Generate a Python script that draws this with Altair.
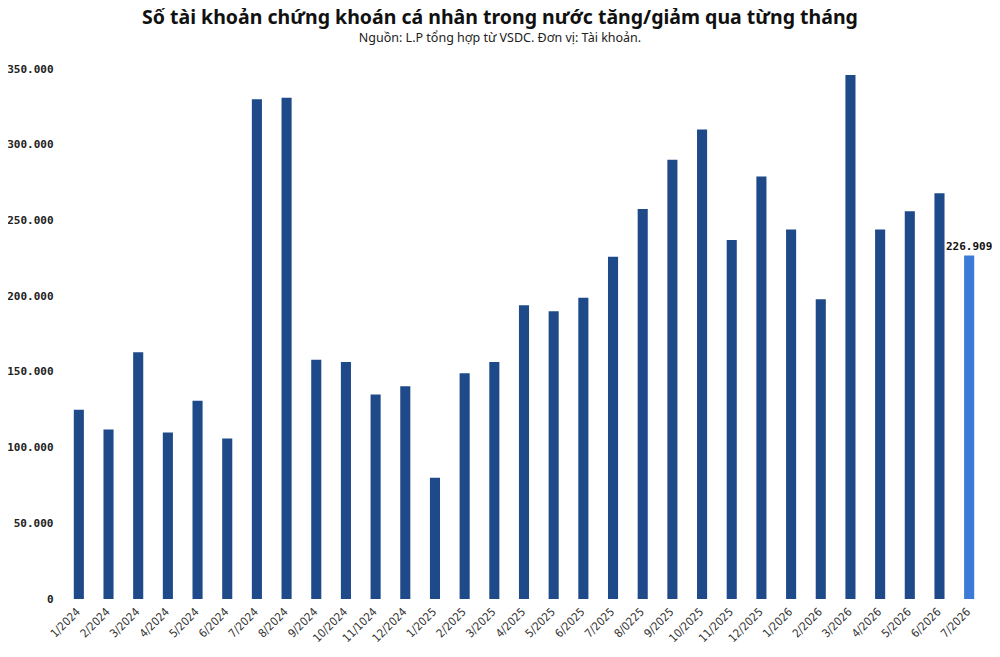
import altair as alt
import pandas as pd

months = ["1/2024", "2/2024", "3/2024", "4/2024", "5/2024", "6/2024", "7/2024", "8/2024",
          "9/2024", "10/2024", "11/1024", "12/2024", "1/2025", "2/2025", "3/2025", "4/2025",
          "5/2025", "6/2025", "7/2025", "8/0225", "9/2025", "10/2025", "11/2025", "12/2025",
          "1/2026", "2/2026", "3/2026", "4/2026", "5/2026", "6/2026", "7/2026"]
accounts = [125000, 112000, 163000, 110000, 131000, 106000, 330000, 331000,
            158000, 156500, 135000, 140500, 80000, 149000, 156500, 194000,
            190000, 199000, 226000, 257500, 290000, 310000, 237000, 279000,
            244000, 198000, 346000, 244000, 256000, 268000, 226909]
highlight = ["7/2026"]
label_text = ["226.909"]

df = pd.DataFrame({"month": months, "value": accounts})
df["hl"] = df["month"].isin(highlight)
lab = pd.DataFrame({"month": highlight, "value": [accounts[-1]], "text": label_text})

x = alt.X("month:N", sort=months, title=None,
          scale=alt.Scale(paddingInner=0.66, paddingOuter=0.33),
          axis=alt.Axis(labelAngle=-45, labelAlign="right", labelBaseline="middle",
                        labelPadding=11, ticks=False, tickSize=0, domain=False,
                        labelFont="DejaVu Sans Condensed", labelFontSize=11.5,
                        labelColor="#333333"))
y = alt.Y("value:Q", title=None, scale=alt.Scale(domain=[0, 350000], nice=False),
          axis=alt.Axis(values=[0, 50000, 100000, 150000, 200000, 250000, 300000, 350000],
                        labelExpr="replace(format(datum.value, ','), ',', '.')",
                        ticks=False, tickSize=0, domain=False, grid=False,
                        labelPadding=11, labelFont="DejaVu Sans Mono", labelFontWeight="bold",
                        labelFontSize=11, labelColor="#222222"))

bars = alt.Chart(df).mark_bar().encode(
    x=x, y=y,
    color=alt.condition("datum.hl", alt.value("#3b7ad6"), alt.value("#1f4a8a")),
)
text = alt.Chart(lab).mark_text(dy=-8, font="DejaVu Sans Mono", fontWeight="bold",
                                fontSize=11, color="#111111").encode(
    x=alt.X("month:N", sort=months), y="value:Q", text="text:N")

chart = alt.layer(bars, text).properties(
    width=920, height=530,
    title=alt.TitleParams(
        "Số tài khoản chứng khoán cá nhân trong nước tăng/giảm qua từng tháng",
        subtitle="Nguồn: L.P tổng hợp từ VSDC. Đơn vị: Tài khoản.",
        font="Noto Sans", fontSize=19.5, fontWeight="bold", color="#111111",
        subtitleFont="Noto Sans", subtitleFontSize=12.5, subtitleColor="#222222",
        anchor="middle", dx=-24, offset=18, subtitlePadding=3),
    autosize=alt.AutoSizeParams(type="none"),
    padding={"left": 56, "top": 61, "right": 8, "bottom": 50},
).configure_view(stroke=None).configure_axis(grid=False)

chart.save("out.html", embed_options={"renderer": "svg", "actions": False})
